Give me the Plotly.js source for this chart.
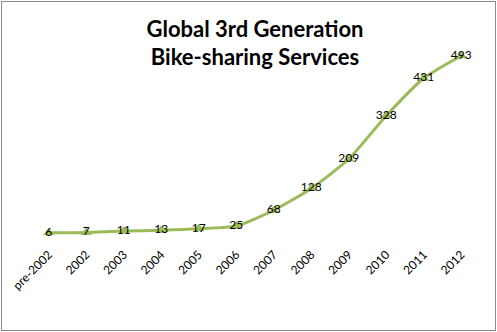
<!DOCTYPE html>
<html><head><meta charset="utf-8">
<script src="https://cdn.plot.ly/plotly-3.0.1.min.js"></script>
<style>body{margin:0;padding:0;background:#fff}#wrap{position:relative;width:497px;height:332px}#chart{width:497px;height:332px}#frame{position:absolute;left:1px;top:1px;width:493px;height:328px;border:1px solid #8a8a8a;pointer-events:none}</style>
</head><body>
<div id="wrap"><div id="chart"></div><div id="frame"></div></div>
<script>
const categories = ["pre-2002","2002","2003","2004","2005","2006","2007","2008","2009","2010","2011","2012"];
const services = [6,7,11,13,17,25,68,128,209,328,431,493];
const labels = services.map(String);

const trace = {
  x: categories, y: services, type: 'scatter', mode: 'lines+markers+text',
  line: {color: '#9BBB59', width: 3, shape: 'spline', smoothing: 0.6},
  marker: {symbol: 'triangle-up', size: 10, color: '#9BBB59'},
  text: labels, textposition: 'middle center',
  textfont: {family: 'Lato, Carlito, sans-serif', size: 12, color: '#000'},
  hoverinfo: 'none', cliponaxis: false
};
const layout = {
  width: 497, height: 332,
  margin: {l: 30, r: 17, t: 35, b: 97},
  paper_bgcolor: '#fff', plot_bgcolor: '#fff',
  showlegend: false,
  title: {text: 'Global 3rd Generation<br>Bike-sharing Services',
    font: {family: 'Lato, sans-serif', size: 22, color: '#000', weight: 'bold'},
    x: 0.5, xanchor: 'center', xref: 'paper', y: 0.889, yanchor: 'middle', yref: 'container'},
  xaxis: {type: 'category', range: [-0.5, 11.5], showgrid: false, zeroline: false, showline: false,
    ticks: 'outside', ticklen: 7, tickcolor: 'rgba(0,0,0,0)', tickangle: -45,
    tickfont: {family: 'Lato, sans-serif', size: 12, color: '#000'}},
  yaxis: {range: [0, 550], visible: false, showgrid: false, zeroline: false}
};
Plotly.newPlot('chart', [trace], layout, {staticPlot: true, displayModeBar: false});
</script>
</body></html>
